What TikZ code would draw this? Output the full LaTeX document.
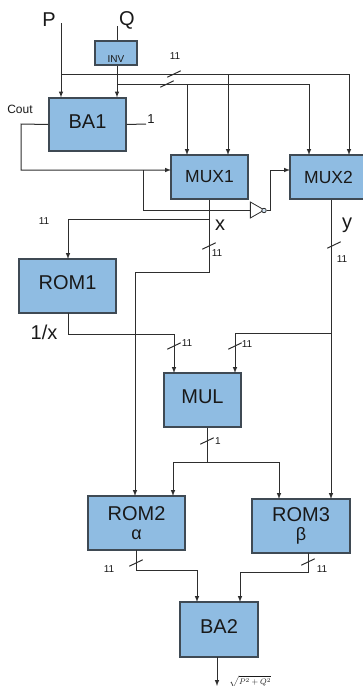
\documentclass[tikz,border=0pt]{standalone}
\usepackage{fontspec}
\setmainfont{Liberation Sans}
\usetikzlibrary{shapes}
\usetikzlibrary{positioning}
\definecolor{blockfill}{HTML}{8FBCE2}
\definecolor{blockline}{HTML}{3F4A54}
\definecolor{wire}{HTML}{2E2E2E}
\tikzset{
    block/.style = {rectangle, draw=blockline, line width=1.1pt, fill=blockfill, inner sep=0pt, align=center, text=black!90},
    bigtxt/.style = {font=\fontsize{20}{21}\selectfont, text depth=6pt},
    romtxt/.style = {font=\fontsize{20}{21}\selectfont},
    muxtxt/.style = {font=\fontsize{17.5}{19}\selectfont},
    lbl/.style = {inner sep=0pt, text=black!90},
    lblb/.style = {lbl, font=\fontsize{20}{22}\selectfont},
    lbls/.style = {lbl, font=\fontsize{10}{11}\selectfont},
    edgen/.style = {draw=wire, line width=1pt},
    edgea/.style = {edgen, -latex},
    bustick/.style = {rectangle, inner sep=0pt, minimum width=13pt, minimum height=6pt},
    notgate/.style = {isosceles triangle, isosceles triangle stretches, draw=wire, line width=0.8pt, fill=white, inner sep=0pt, minimum width=16pt, minimum height=14pt},
    bubble/.style = {circle, draw=wire, line width=0.8pt, fill=blockfill!40, inner sep=0pt, minimum size=4.5pt}
}
\begin{document}
\begin{tikzpicture}[x=1pt,y=-1pt]
\useasboundingbox (0,0) rectangle (363,686);
\clip (0,0) rectangle (363,686);
%
\node[block, minimum width=42pt, minimum height=24pt, font=\fontsize{10}{11}\selectfont] at (116,53) (inv) {\raisebox{-9pt}[0pt][0pt]{INV}};
\node[block, bigtxt, minimum width=77pt, minimum height=53pt] at (87.5,124.5) (ba1) {BA1};
\node[block, muxtxt, minimum width=77pt, minimum height=44pt] at (209.5,177) (mux1) {MUX1};
\node[block, muxtxt, minimum width=77pt, minimum height=44pt] at (328.5,177) (mux2) {MUX2};
\node[block, bigtxt, minimum width=97pt, minimum height=54pt] at (67.5,286) (rom1) {ROM1};
\node[block, bigtxt, minimum width=77pt, minimum height=54pt] at (202.5,400) (mul) {MUL};
\node[block, romtxt, minimum width=97pt, minimum height=54pt] at (136.5,523) (rom2) {ROM2\\[-2pt]{\fontsize{18}{18}\selectfont α}};
\node[block, romtxt, minimum width=98pt, minimum height=54pt] at (301,526) (rom3) {ROM3\\[-2pt]{\fontsize{18}{18}\selectfont β}};
\node[block, bigtxt, minimum width=78pt, minimum height=55pt] at (219,629.5) (ba2) {BA2};
\node[notgate] at (255,210) (nt) {};
\node[bubble] at (264,210.5) (nb) {};
%
\node[lblb] at (49,20) (lp) {P};
\node[lblb] at (127,20) (lq) {Q};
\node[lblb] at (220,225) (lx) {x};
\node[lblb] at (347,225) (ly) {y};
\node[lblb] at (44,332) (linv) {1/x};
\node[lbl, font=\fontsize{12}{13}\selectfont] at (20,109) (lcout) {Cout};
\node[lbl, font=\fontsize{13}{14}\selectfont] at (151,119) (lone) {1};
\node[lbls] at (175,56) (l1) {11};
\node[lbls] at (44,221) (l2) {11};
\node[lbls] at (217,253) (l3) {11};
\node[lbls] at (342,259) (l4) {11};
\node[lbls] at (187,343) (l5) {11};
\node[lbls] at (247,344) (l6) {11};
\node[lbls] at (218,441) (l7) {1};
\node[lbls] at (109,569) (l8) {11};
\node[lbls] at (322,569) (l9) {11};
\node[lbl, font=\fontsize{8}{9}\selectfont] at (250,682) (lroot) {$\sqrt{P^2+Q^2}$};
%
\coordinate (pin) at (61,23);
\coordinate (qin) at (117,26);
\coordinate (jp) at (61,74.5);
\coordinate (jq) at (117,84);
\coordinate (m1q) at (187,155);
\coordinate (m1p) at (228,155);
\coordinate (m2q) at (309,155);
\coordinate (m2p) at (349,155);
\coordinate (cy) at (21,124);
\coordinate (m1s) at (171,170);
\coordinate (m2s) at (290,170);
\coordinate (js) at (143,170);
\coordinate (nk) at (270,170);
\coordinate (onew) at (146,124);
\coordinate (jx) at (209,219);
\coordinate (xb) at (135,272);
\coordinate (r1t) at (68,259);
\coordinate (r2x) at (135,496);
\coordinate (r3y) at (331,499);
\coordinate (jy) at (331,333);
\coordinate (mb) at (235,373);
\coordinate (ma) at (174,373);
\coordinate (mak) at (174,334);
\coordinate (r1b) at (68,313);
\coordinate (jm) at (207,462);
\coordinate (r2m) at (173,496);
\coordinate (r3m) at (279,499);
\coordinate (r2o) at (136,550);
\coordinate (r3o) at (308,553);
\coordinate (ba2a) at (197,602);
\coordinate (ba2b) at (240,602);
\coordinate (ak) at (197,570);
\coordinate (bk) at (240,572);
\coordinate (ba2o) at (217,657);
\coordinate (rootend) at (217,686);
%
\draw[edgea] (pin) -- (pin |- ba1.north);
\draw[edgen] (qin) -- (qin |- inv.north);
\draw[edgea] (qin |- inv.south) -- (qin |- ba1.north);
\draw[edgea] (jp) -| (m2p);
\draw[edgea] (m1p |- jp) -- (m1p);
\draw[edgea] (jq) -| (m2q);
\draw[edgea] (m1q |- jq) -- (m1q);
\draw[edgen] (ba1.east) -- (onew);
\draw[edgea] (ba1.west) -- (cy) |- (m1s);
\draw[edgen] (js) |- (nt.west);
\draw[edgea] (nb.east) -| (nk) -- (m2s);
\draw[edgen] (mux1.south) |- (xb);
\draw[edgea] (xb) -- (r2x);
\draw[edgea] (jx) -| (r1t);
\draw[edgea] (r1b) |- (mak) -- (ma);
\draw[edgea] (mux2.south -| jy) -- (r3y);
\draw[edgea] (jy) -| (mb);
\draw[edgen] (mul.south -| jm) -- (jm);
\draw[edgea] (jm) -| (r2m);
\draw[edgea] (jm) -| (r3m);
\draw[edgea] (r2o) |- (ak) -- (ba2a);
\draw[edgea] (r3o) |- (bk) -- (ba2b);
\draw[edgea] (ba2o) -- (rootend);
%
\node[bustick] at (174,74) (t1) {};
\node[bustick] at (167,84) (t2) {};
\node[bustick] at (209,246) (t3) {};
\node[bustick] at (334,245) (t4) {};
\node[bustick] at (174,346) (t5) {};
\node[bustick] at (235,346) (t6) {};
\node[bustick] at (207,441) (t7) {};
\node[bustick] at (136,563) (t8) {};
\node[bustick] at (308,562) (t9) {};
\draw[edgen] (t1.south west) -- (t1.north east);
\draw[edgen] (t2.south west) -- (t2.north east);
\draw[edgen] (t3.south west) -- (t3.north east);
\draw[edgen] (t4.south west) -- (t4.north east);
\draw[edgen] (t5.south west) -- (t5.north east);
\draw[edgen] (t6.south west) -- (t6.north east);
\draw[edgen] (t7.south west) -- (t7.north east);
\draw[edgen] (t8.south west) -- (t8.north east);
\draw[edgen] (t9.south west) -- (t9.north east);
\end{tikzpicture}
\end{document}
